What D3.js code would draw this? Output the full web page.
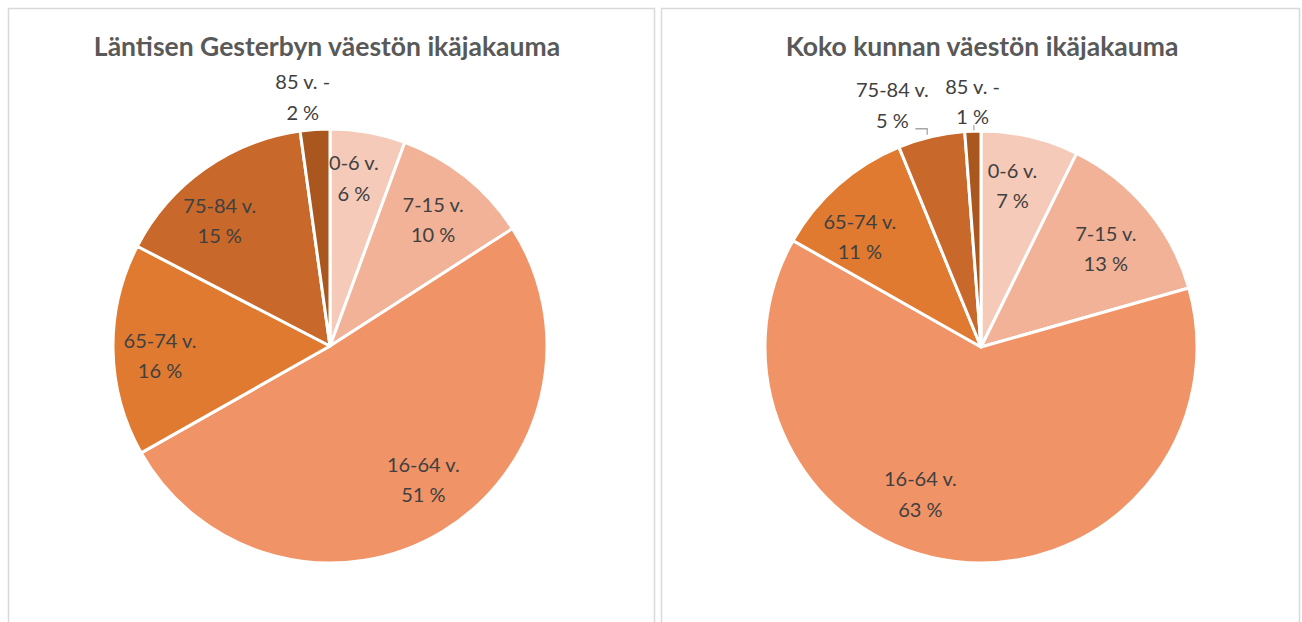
<!DOCTYPE html>
<html>
<head>
<meta charset="utf-8">
<script src="https://cdn.jsdelivr.net/npm/d3@7/dist/d3.min.js"></script>
<style>
  html, body { margin: 0; padding: 0; background: #ffffff; }
  svg { display: block; }
</style>
</head>
<body>
<svg id="chart" width="1302" height="622"></svg>
<script>
// ---- data ----
const categories = ["0-6 v.", "7-15 v.", "16-64 v.", "65-74 v.", "75-84 v.", "85 v. -"];
const titles = ["Läntisen Gesterbyn väestön ikäjakauma", "Koko kunnan väestön ikäjakauma"];
const gesterbyValues = [5.6, 10.3, 50.9, 15.8, 15.2, 2.2];
const kuntaValues = [7.3, 13.3, 62.6, 10.6, 5.0, 1.2];

// ---- styles / layout ----
const colors = ["#F5CAB9", "#F2B297", "#F09367", "#E07A30", "#C8682A", "#A9561F"];
const W = 1302, H = 622;
const panels = [
  { x: 8.5, w: 646, cx: 330, cy: 346, r: 217, titleX: 327,
    values: gesterbyValues,
    outside: [false, false, false, false, false, true],
    nudge: [[-5,-6],[0,2],[8,-8],[-5,6],[-15,9],[-10,0]],
    leader: [null,null,null,null,null,null] },
  { x: 661.5, w: 638, cx: 981, cy: 347, r: 216, titleX: 982,
    values: kuntaValues,
    outside: [false, false, false, false, true, true],
    nudge: [[-6,-1],[-2,7],[-41,-17],[-12,13],[-31,1],[1,4]],
    leader: [null,null,null,null,"elbow","tick"] }
];
const fontFamily = "Lato, 'Open Sans', sans-serif";

const svg = d3.select("#chart");

panels.forEach((p, pi) => {
  // panel border
  svg.append("rect")
    .attr("x", p.x).attr("y", 8.5)
    .attr("width", p.w).attr("height", H + 20)
    .attr("fill", "#ffffff")
    .attr("stroke", "#d9d9d9").attr("stroke-width", 1.5);

  // title
  svg.append("text")
    .attr("x", p.titleX).attr("y", 56)
    .attr("text-anchor", "middle")
    .attr("font-family", fontFamily)
    .attr("font-weight", "bold")
    .attr("font-size", 26.5)
    .attr("fill", "#595959")
    .text(titles[pi]);

  const total = d3.sum(p.values);
  const pie = d3.pie().sort(null).value(d => d)(p.values);
  const arc = d3.arc().innerRadius(0).outerRadius(p.r);
  const g = svg.append("g").attr("transform", `translate(${p.cx},${p.cy})`);

  g.selectAll("path.slice")
    .data(pie)
    .join("path")
    .attr("class", "slice")
    .attr("d", arc)
    .attr("fill", (d, i) => colors[i])
    .attr("stroke", "#ffffff")
    .attr("stroke-width", 3)
    .attr("stroke-linejoin", "round");

  const inArc = d3.arc().innerRadius(165).outerRadius(165);
  const outArc = d3.arc().innerRadius(250).outerRadius(250);
  const edgeArc = d3.arc().innerRadius(p.r).outerRadius(p.r);

  pie.forEach((d, i) => {
    const c = (p.outside[i] ? outArc : inArc).centroid(d);
    const x = c[0] + p.nudge[i][0];
    const y = c[1] + p.nudge[i][1];
    const pct = Math.round(d.data / total * 100) + " %";

    // leader lines
    if (p.leader[i] === "elbow") {
      const e = edgeArc.centroid(d);
      const ly = y + 24;
      g.append("path")
        .attr("d", d3.line()([[x + 23, ly], [e[0] - 4, ly], [e[0] - 4, e[1] - 2]]))
        .attr("fill", "none").attr("stroke", "#a6a6a6").attr("stroke-width", 1.3);
    } else if (p.leader[i] === "tick") {
      const e = edgeArc.centroid(d);
      g.append("line")
        .attr("x1", e[0] + 1).attr("y1", e[1] - 6)
        .attr("x2", e[0] + 1).attr("y2", e[1] - 1)
        .attr("stroke", "#a6a6a6").attr("stroke-width", 1.3);
    }

    const t = g.append("text")
      .attr("text-anchor", "middle")
      .attr("font-family", fontFamily)
      .attr("font-size", 20)
      .attr("fill", "#404040");
    t.append("tspan").attr("x", x).attr("y", y - 7.5).text(categories[i]);
    t.append("tspan").attr("x", x).attr("y", y + 23).text(pct);
  });
});
</script>
</body>
</html>
